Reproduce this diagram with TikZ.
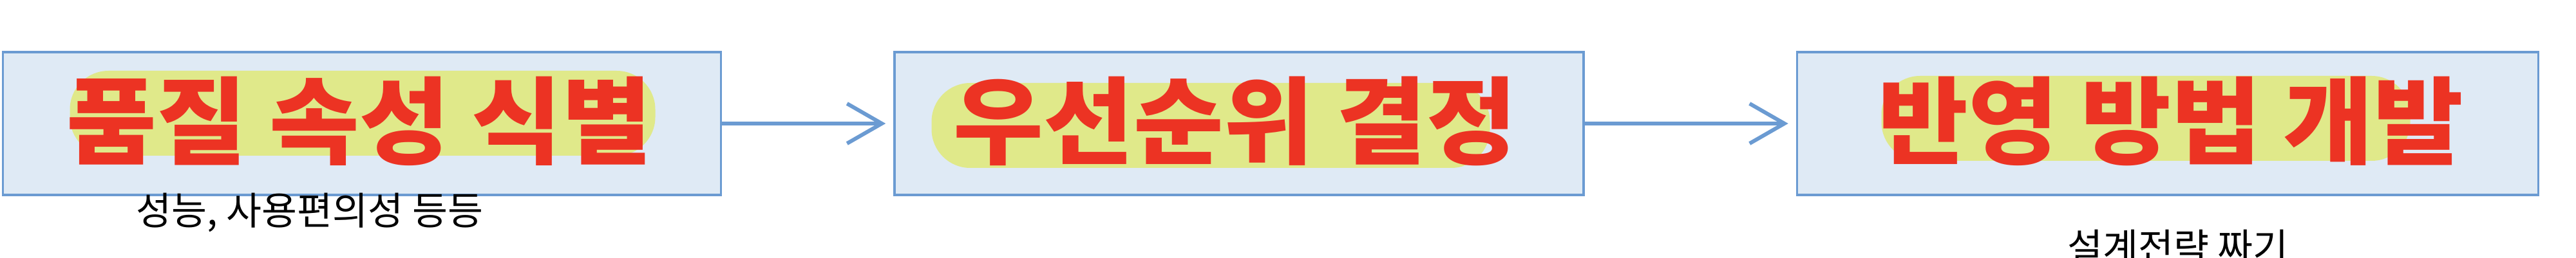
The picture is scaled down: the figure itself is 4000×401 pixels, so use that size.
\documentclass[tikz,border=0pt]{standalone}
\usepackage{fontspec}
\usetikzlibrary{arrows.meta}
\newfontfamily\krfont{Noto Sans CJK KR}
\newfontfamily\krhead[FakeStretch=1.03]{Noto Sans CJK KR}
\definecolor{boxfill}{HTML}{DFEAF5}
\definecolor{boxline}{HTML}{6B9BD2}
\definecolor{headred}{HTML}{EC3323}
\definecolor{hlyellow}{HTML}{E0E98A}
\tikzset{
  phase/.style={draw=boxline, fill=boxfill, line width=1pt, inner sep=0pt,
                minimum height=22.2mm, minimum width=#1},
  hl/.style={fill=hlyellow, rounded corners=6mm, inner sep=0pt,
             minimum height=13.2mm, minimum width=#1},
  headline/.style={text=headred, inner sep=0pt,
                   font=\krhead\bfseries\fontsize{42}{46}\selectfont},
  note/.style={inner sep=0pt, font=\krfont\fontsize{17}{19}\selectfont},
  flow/.style={-{Straight Barb[length=5.4mm,width=6.2mm,line width=1.7pt]},
               draw=boxline, line width=1.7pt, shorten >=1.2mm},
}

\begin{document}
\begin{tikzpicture}[x=0.1mm,y=-0.1mm]
  \useasboundingbox (0,0) rectangle (4000,401);
  \node[phase=111.5mm] (b1) at (562,192) {};
  \node[phase=107mm] (b2) at (1924,192) {};
  \node[phase=115.1mm] (b3) at (3366,192) {};
  % highlighter strokes
  \node[hl=90.9mm] (h1) at (563,176) {};
  \node[hl=86.7mm] (h2) at (1880,195) {};
  \node[hl=82.1mm] (h3) at (3332,184) {};
  \node[headline] (t1) at (558,188) {품질 속성 식별};
  \node[headline] (t2) at (1918,188) {우선순위 결정};
  \node[headline] (t3) at (3371,188) {반영 방법 개발};
  \node[note] (n1) at (481,330) {성능, 사용편의성 등등};
  \node[note] (n2) at (3382,384) {설계전략 짜기};
  \foreach \a/\b in {b1/b2,b2/b3} \draw[flow] (\a.east) -- (\b.west);
\end{tikzpicture}
\end{document}
